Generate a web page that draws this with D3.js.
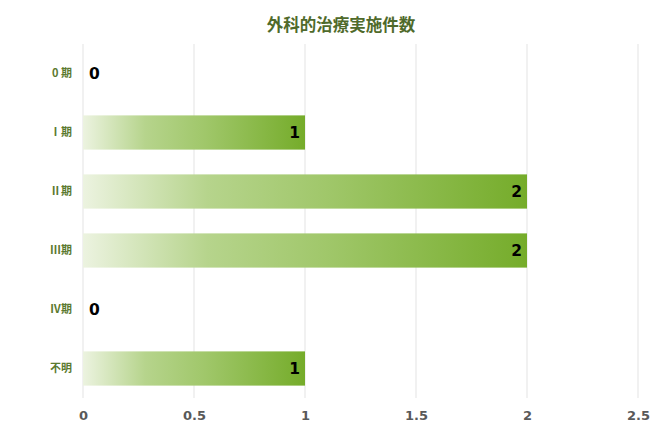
<!DOCTYPE html>
<html>
<head>
<meta charset="utf-8">
<title>外科的治療実施件数</title>
<script src="https://d3js.org/d3.v7.min.js"></script>
<style>
    body { margin: 0; background: #fff; }
    svg text { font-family: "DejaVu Sans", "Noto Sans CJK JP", sans-serif; }
</style>
</head>
<body>
<div id="chart"></div>
<script>
    // data
    var categories = ["0 期", "Ⅰ期", "Ⅱ期", "Ⅲ期", "Ⅳ期", "不明"];
    var counts = [0, 1, 2, 2, 0, 1];
    var xTicks = [0, 0.5, 1, 1.5, 2, 2.5];
    var chartTitle = "外科的治療実施件数";

    var width = 670, height = 436;
    var margin = { top: 44, right: 32, bottom: 38, left: 83 };

    var svg = d3.select("#chart").append("svg")
        .attr("width", width)
        .attr("height", height);

    // gradient like the Excel fill: pale on the left, green on the right
    var grad = svg.append("defs").append("linearGradient")
        .attr("id", "barFill")
        .attr("x1", "0%").attr("x2", "100%")
        .attr("y1", "0%").attr("y2", "0%");
    grad.append("stop").attr("offset", "0%").attr("stop-color", "#ecf3e0");
    grad.append("stop").attr("offset", "28%").attr("stop-color", "#b6d48c");
    grad.append("stop").attr("offset", "55%").attr("stop-color", "#a0c76a");
    grad.append("stop").attr("offset", "100%").attr("stop-color", "#75ac2a");

    var x = d3.scaleLinear()
        .domain([0, 2.5])
        .range([margin.left, width - margin.right]);

    var y = d3.scaleBand()
        .domain(categories)
        .range([margin.top, height - margin.bottom])
        .paddingInner(0.42)
        .paddingOuter(0.21);

    // vertical gridlines
    svg.append("g")
        .selectAll("line")
        .data(xTicks)
        .join("line")
        .attr("x1", function (d) { return x(d); })
        .attr("x2", function (d) { return x(d); })
        .attr("y1", margin.top)
        .attr("y2", height - margin.bottom)
        .attr("stroke", "#e3e3e3")
        .attr("stroke-width", 1);

    // x axis labels
    var xAxis = svg.append("g")
        .attr("transform", "translate(0," + (height - margin.bottom) + ")")
        .call(d3.axisBottom(x).tickValues(xTicks).tickSize(0).tickPadding(13)
            .tickFormat(function (d) { return String(d); }));
    xAxis.select(".domain").remove();
    xAxis.selectAll("text")
        .attr("fill", "#595959")
        .style("font-size", "13px")
        .style("font-weight", "bold");

    // y axis labels
    var yAxis = svg.append("g")
        .attr("transform", "translate(" + margin.left + ",0)")
        .call(d3.axisLeft(y).tickSize(0).tickPadding(11));
    yAxis.select(".domain").remove();
    yAxis.selectAll("text")
        .attr("fill", "#5b7a30")
        .style("font-size", "11px")
        .style("font-weight", "bold")
        .style("font-family", "'Noto Sans CJK JP', 'DejaVu Sans', sans-serif");

    var rows = categories.map(function (c, i) { return { cat: c, val: counts[i] }; });

    // bars
    svg.append("g")
        .selectAll("rect")
        .data(rows.filter(function (d) { return d.val > 0; }))
        .join("rect")
        .attr("x", x(0))
        .attr("y", function (d) { return y(d.cat); })
        .attr("width", function (d) { return x(d.val) - x(0); })
        .attr("height", y.bandwidth())
        .attr("fill", "url(#barFill)");

    // value labels
    svg.append("g")
        .selectAll("text")
        .data(rows)
        .join("text")
        .attr("x", function (d) { return d.val > 0 ? x(d.val) - 5 : x(0) + 6; })
        .attr("y", function (d) { return y(d.cat) + y.bandwidth() / 2; })
        .attr("dy", "0.36em")
        .attr("text-anchor", function (d) { return d.val > 0 ? "end" : "start"; })
        .attr("fill", "#000")
        .style("font-size", "15.5px")
        .style("font-weight", "bold")
        .text(function (d) { return d.val; });

    // title
    svg.append("text")
        .attr("x", 341)
        .attr("y", 31)
        .attr("text-anchor", "middle")
        .attr("fill", "#4f6a2b")
        .style("font-size", "16.5px")
        .style("font-weight", "bold")
        .style("font-family", "'Noto Sans CJK JP', sans-serif")
        .text(chartTitle);
</script>
</body>
</html>
